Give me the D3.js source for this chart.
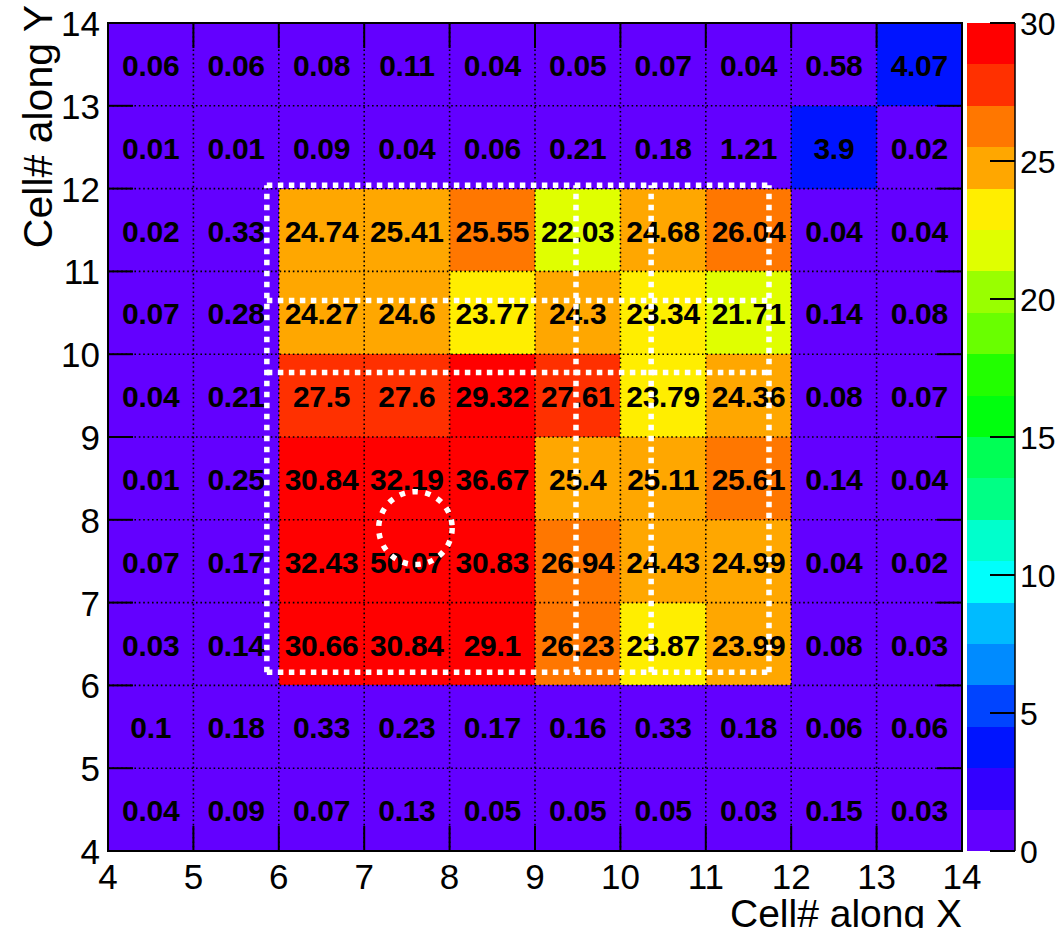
<!DOCTYPE html>
<html>
<head>
<meta charset="utf-8">
<script src="https://cdn.jsdelivr.net/npm/d3@7"></script>
<style>
  html, body { margin: 0; padding: 0; background: #fff; }
  svg { display: block; font-family: "Liberation Sans", Arial, Helvetica, sans-serif; }
</style>
</head>
<body>
<svg id="chart" width="1062" height="928"></svg>
<script>
(function(){
'use strict';

// bin lower edges
var xBins = [4, 5, 6, 7, 8, 9, 10, 11, 12, 13];
var yBins = [13, 12, 11, 10, 9, 8, 7, 6, 5, 4];   // rows, top to bottom

// cell contents, one row per yBins entry, columns follow xBins
var cellValues = [
    [0.06, 0.06, 0.08, 0.11, 0.04, 0.05, 0.07, 0.04, 0.58, 4.07],
    [0.01, 0.01, 0.09, 0.04, 0.06, 0.21, 0.18, 1.21, 3.9, 0.02],
    [0.02, 0.33, 24.74, 25.41, 25.55, 22.03, 24.68, 26.04, 0.04, 0.04],
    [0.07, 0.28, 24.27, 24.6, 23.77, 24.3, 23.34, 21.71, 0.14, 0.08],
    [0.04, 0.21, 27.5, 27.6, 29.32, 27.61, 23.79, 24.36, 0.08, 0.07],
    [0.01, 0.25, 30.84, 32.19, 36.67, 25.4, 25.11, 25.61, 0.14, 0.04],
    [0.07, 0.17, 32.43, 50.07, 30.83, 26.94, 24.43, 24.99, 0.04, 0.02],
    [0.03, 0.14, 30.66, 30.84, 29.1, 26.23, 23.87, 23.99, 0.08, 0.03],
    [0.1, 0.18, 0.33, 0.23, 0.17, 0.16, 0.33, 0.18, 0.06, 0.06],
    [0.04, 0.09, 0.07, 0.13, 0.05, 0.05, 0.05, 0.03, 0.15, 0.03]
];

var xTicks = [4, 5, 6, 7, 8, 9, 10, 11, 12, 13, 14];
var yTicks = [4, 5, 6, 7, 8, 9, 10, 11, 12, 13, 14];
var zTicks = [0, 5, 10, 15, 20, 25, 30];
var zRange = [0, 30];
var nContours = 20;

// dashed white overlay, in axis units: [x1, y1, x2, y2]
var boxLines = [
    [5.86, 12.04, 11.74, 12.04],
    [5.86, 10.65, 11.74, 10.65],
    [5.86, 9.78, 11.74, 9.78],
    [5.86, 6.16, 11.74, 6.16],
    [5.86, 6.16, 5.86, 12.04],
    [9.48, 6.16, 9.48, 12.04],
    [10.36, 6.16, 10.36, 12.04],
    [11.74, 6.16, 11.74, 12.04]
];
var spot = [{cx: 7.6, cy: 7.9, rx: 0.43, ry: 0.44}];

var svg = d3.select('#chart');
var frame = {left: 108, right: 962, top: 23, bottom: 851};
var bar = {left: 967, right: 1015};

var x = d3.scaleLinear().domain([4, 14]).range([frame.left, frame.right]);
var y = d3.scaleLinear().domain([4, 14]).range([frame.bottom, frame.top]);
var z = d3.scaleLinear().domain(zRange).range([frame.bottom, frame.top]);

// ROOT "pretty" palette: 50 hues violet -> red, sampled for 20 contours
var palette = d3.range(50).map(function(i) {
    return d3.hsl(280 - (i + 1) * 5.6, 1, 0.5).formatHex();
});
var contourColors = d3.range(nContours).map(function(j) {
    return palette[Math.floor((j + 0.99) * 50 / nContours)];
});
var levelOf = function(v) {
    var l = Math.floor(0.01 + (v - zRange[0]) * nContours / (zRange[1] - zRange[0]));
    return Math.max(0, Math.min(nContours - 1, l));
};

var cells = [];
yBins.forEach(function(yb, r) {
    xBins.forEach(function(xb, c) {
        cells.push({x: xb, y: yb, v: cellValues[r][c]});
    });
});

// cells
svg.append('g').selectAll('rect').data(cells).enter().append('rect')
    .attr('x', function(d) { return x(d.x); })
    .attr('y', function(d) { return y(d.y + 1); })
    .attr('width', function(d) { return x(d.x + 1) - x(d.x); })
    .attr('height', function(d) { return y(d.y) - y(d.y + 1); })
    .attr('fill', function(d) { return contourColors[levelOf(d.v)]; })
    .attr('shape-rendering', 'crispEdges');

// dotted grid
var grid = svg.append('g').attr('stroke', '#000').attr('stroke-width', 1.6).attr('stroke-dasharray', '1.6,2.8');
grid.selectAll('line.gx').data(xTicks.slice(1, -1)).enter().append('line')
    .attr('x1', x).attr('x2', x).attr('y1', frame.top).attr('y2', frame.bottom);
grid.selectAll('line.gy').data(yTicks.slice(1, -1)).enter().append('line')
    .attr('y1', y).attr('y2', y).attr('x1', frame.left).attr('x2', frame.right);

// major ticks on all four sides
var tickLen = 25;
var ticks = svg.append('g').attr('stroke', '#000').attr('stroke-width', 2);
xTicks.forEach(function(t) {
    ticks.append('line').attr('x1', x(t)).attr('x2', x(t)).attr('y1', frame.bottom).attr('y2', frame.bottom - tickLen);
    ticks.append('line').attr('x1', x(t)).attr('x2', x(t)).attr('y1', frame.top).attr('y2', frame.top + tickLen);
});
yTicks.forEach(function(t) {
    ticks.append('line').attr('y1', y(t)).attr('y2', y(t)).attr('x1', frame.left).attr('x2', frame.left + tickLen);
    ticks.append('line').attr('y1', y(t)).attr('y2', y(t)).attr('x1', frame.right).attr('x2', frame.right - tickLen);
});

svg.append('rect')
    .attr('x', frame.left).attr('y', frame.top)
    .attr('width', frame.right - frame.left).attr('height', frame.bottom - frame.top)
    .attr('fill', 'none').attr('stroke', '#000').attr('stroke-width', 2);

// cell values
svg.append('g').selectAll('text').data(cells).enter().append('text')
    .attr('x', function(d) { return x(d.x + 0.5); })
    .attr('y', function(d) { return y(d.y + 0.5) + 11.5; })
    .attr('text-anchor', 'middle')
    .attr('font-size', 30)
    .attr('font-weight', 'bold')
    .attr('letter-spacing', -0.3)
    .attr('fill', '#000')
    .text(function(d) { return String(d.v); });

// axis labels
svg.append('g').selectAll('text').data(xTicks).enter().append('text')
    .attr('x', x).attr('y', 889)
    .attr('text-anchor', 'middle').attr('font-size', 35)
    .text(function(d) { return d; });
svg.append('g').selectAll('text').data(yTicks).enter().append('text')
    .attr('x', 100).attr('y', function(d) { return y(d) + 13; })
    .attr('text-anchor', 'end').attr('font-size', 35)
    .text(function(d) { return d; });

svg.append('text')
    .attr('x', frame.right).attr('y', 927)
    .attr('text-anchor', 'end').attr('font-size', 39)
    .text('Cell# along X');
svg.append('text')
    .attr('transform', 'translate(52,5) rotate(-90)')
    .attr('text-anchor', 'end').attr('font-size', 41)
    .text('Cell# along Y');

// colour bar
var bands = d3.range(nContours).map(function(j) {
    var step = (zRange[1] - zRange[0]) / nContours;
    return {lo: zRange[0] + j * step, hi: zRange[0] + (j + 1) * step, color: contourColors[j]};
});
svg.append('g').selectAll('rect').data(bands).enter().append('rect')
    .attr('x', bar.left).attr('width', bar.right - bar.left)
    .attr('y', function(d) { return z(d.hi); })
    .attr('height', function(d) { return z(d.lo) - z(d.hi); })
    .attr('fill', function(d) { return d.color; })
    .attr('shape-rendering', 'crispEdges');
svg.append('line')
    .attr('x1', bar.right).attr('x2', bar.right).attr('y1', frame.top).attr('y2', frame.bottom)
    .attr('stroke', '#000').attr('stroke-width', 1.5);
svg.append('g').attr('stroke', '#000').attr('stroke-width', 2)
    .selectAll('line').data(zTicks).enter().append('line')
    .attr('x1', bar.right - tickLen).attr('x2', bar.right)
    .attr('y1', z).attr('y2', z);
svg.append('g').selectAll('text').data(zTicks).enter().append('text')
    .attr('x', 1020).attr('y', function(d) { return z(d) + 11.5; })
    .attr('font-size', 32)
    .text(function(d) { return d; });

// white dashed overlay
var overlay = svg.append('g').attr('fill', 'none').attr('stroke', '#fff').attr('stroke-width', 5.5);
overlay.selectAll('line').data(boxLines).enter().append('line')
    .attr('x1', function(d) { return x(d[0]); })
    .attr('y1', function(d) { return y(d[1]); })
    .attr('x2', function(d) { return x(d[2]); })
    .attr('y2', function(d) { return y(d[3]); })
    .attr('stroke-dasharray', '5.5,5.5');
overlay.selectAll('ellipse').data(spot).enter().append('ellipse')
    .attr('cx', function(d) { return x(d.cx); })
    .attr('cy', function(d) { return y(d.cy); })
    .attr('rx', function(d) { return x(d.cx + d.rx) - x(d.cx); })
    .attr('ry', function(d) { return y(d.cy) - y(d.cy + d.ry); })
    .attr('stroke-dasharray', '5.5,7.5');

})();
</script>
</body>
</html>
